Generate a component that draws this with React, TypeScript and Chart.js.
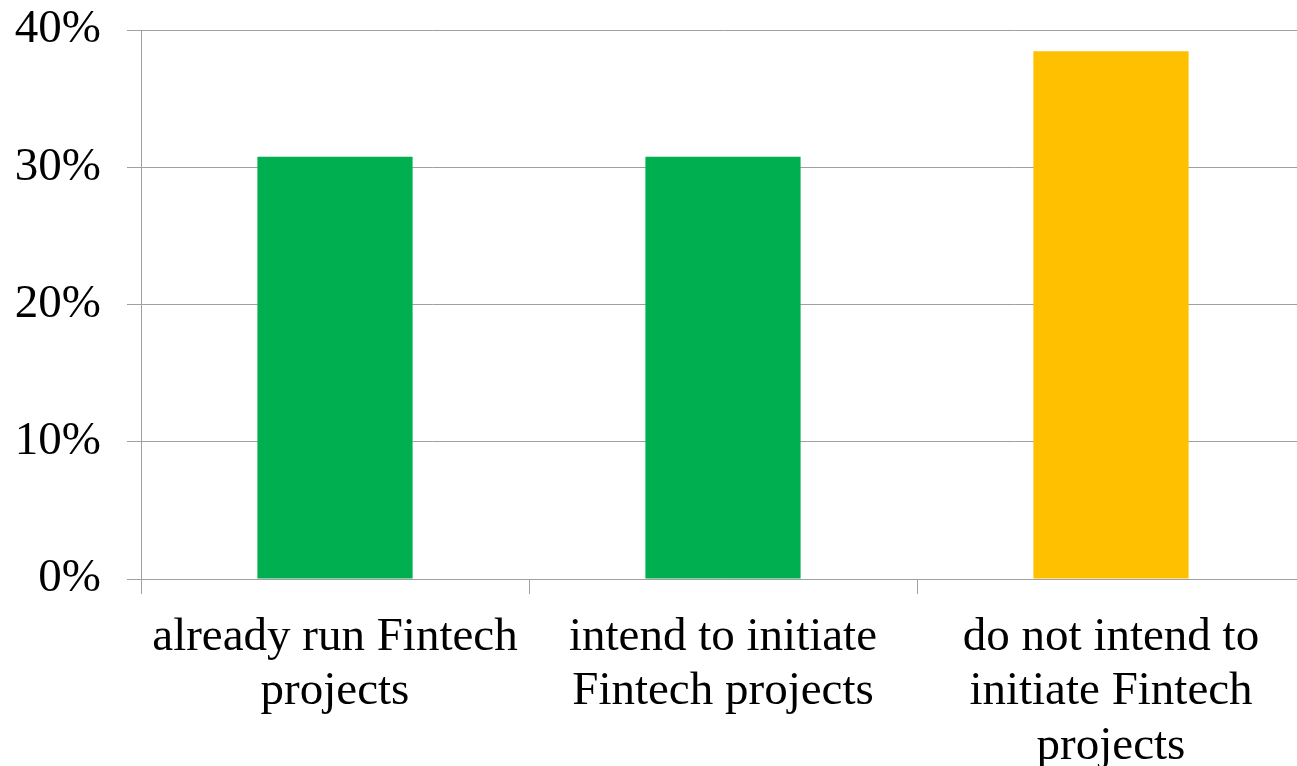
import React, { useEffect, useRef } from "react";
import { Chart, registerables } from "chart.js";

Chart.register(...registerables);

const categories: string[][] = [
  ["already run Fintech", "projects"],
  ["intend to initiate", "Fintech projects"],
  ["do not intend to", "initiate Fintech", "projects"],
];
const values: number[] = [30.77, 30.77, 38.46];
const barColors: string[] = ["#00B050", "#00B050", "#FFC000"];
const yTicks = { min: 0, max: 40, step: 10 };

export default function App() {
  const ref = useRef<HTMLCanvasElement | null>(null);

  useEffect(() => {
    if (!ref.current) return;
    const grid = "#A0A0A0";
    const font = { family: "'Liberation Serif', 'Times New Roman', serif", size: 47 };
    const chart = new Chart(ref.current, {
      type: "bar",
      data: {
        labels: categories,
        datasets: [
          {
            data: values,
            backgroundColor: barColors,
            borderWidth: 0,
            barPercentage: 0.4,
            categoryPercentage: 1,
          },
        ],
      },
      options: {
        animation: false,
        responsive: false,
        maintainAspectRatio: false,
        layout: { padding: { top: 30, right: 15, left: 0, bottom: 0 } },
        plugins: { legend: { display: false }, tooltip: { enabled: false } },
        scales: {
          x: {
            offset: true,
            grid: {
              display: true,
              drawOnChartArea: false,
              drawTicks: true,
              tickLength: 15,
              offset: true,
              color: grid,
              lineWidth: 1,
            },
            border: { display: true, color: grid, width: 1 },
            ticks: {
              color: "#000",
              font: { ...font, lineHeight: 1.16 },
              padding: 16,
              maxRotation: 0,
              autoSkip: false,
            },
            afterFit: (s: any) => {
              s.height = 187;
              s.paddingLeft = 0;
              s.paddingRight = 0;
            },
          },
          y: {
            min: yTicks.min,
            max: yTicks.max,
            ticks: {
              stepSize: yTicks.step,
              color: "#000",
              font,
              padding: 26,
              callback: (v: any) => v + "%",
            },
            grid: { color: grid, lineWidth: 1, tickLength: 14 },
            border: { display: true, color: grid, width: 1 },
            afterFit: (s: any) => {
              s.width = 141;
              s.paddingTop = 0;
              s.paddingBottom = 0;
            },
          },
        },
      },
    });
    return () => chart.destroy();
  }, []);

  return (
    <div style={{ position: "fixed", left: 0, top: 0, right: 0, bottom: 0, overflow: "hidden", background: "#fff" }}>
      <div style={{ position: "absolute", left: 0, top: 0, width: 1320, height: 766 }}>
        <canvas ref={ref} width={1320} height={766} style={{ display: "block" }} />
      </div>
    </div>
  );
}
